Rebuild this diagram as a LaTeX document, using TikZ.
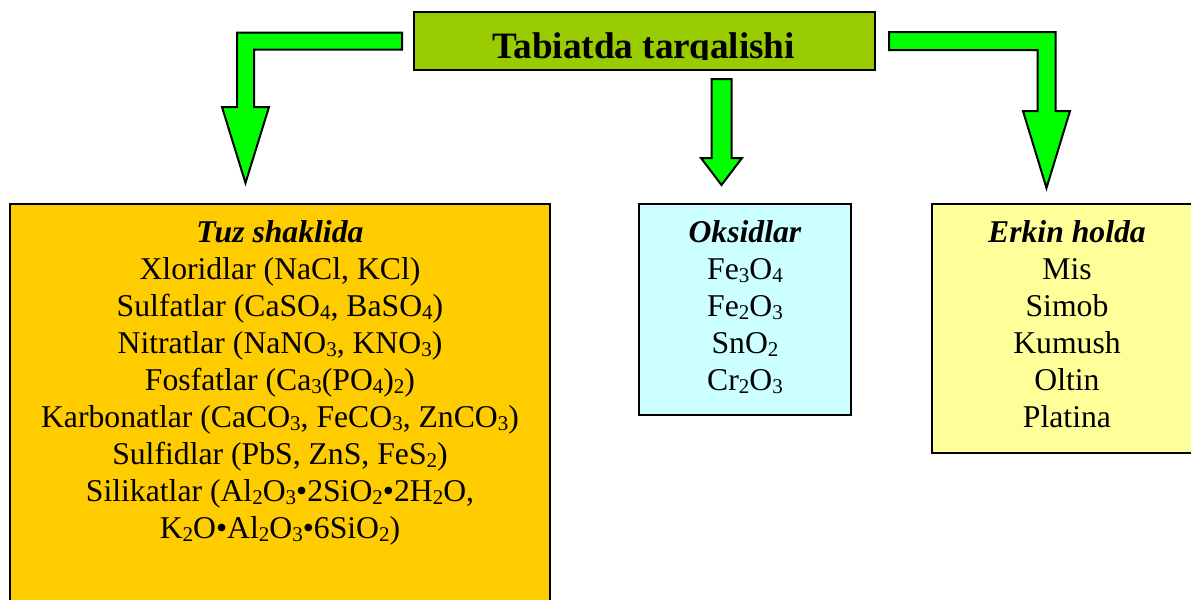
\documentclass[tikz,border=0pt]{standalone}
\usepackage{fontspec}
\setmainfont{Liberation Serif}
\usetikzlibrary{calc}
\definecolor{titlegreen}{HTML}{99CC00}
\definecolor{arrowgreen}{HTML}{00FF00}
\definecolor{saltorange}{HTML}{FFCC00}
\definecolor{oxidecyan}{HTML}{CCFFFF}
\definecolor{freeyellow}{HTML}{FFFF99}
\newcommand\subn[1]{\raisebox{-0.1em}{\fontsize{10.5pt}{10.5pt}\selectfont #1}}
\begin{document}
\begin{tikzpicture}[x=0.5pt,y=-0.5pt,
	box/.style={draw=black, line width=1pt, anchor=north west, inner sep=0pt},
	list/.style={align=center, anchor=base, inner sep=0pt, font=\fontsize{15.85pt}{18.5pt}\selectfont},
	bigarrow/.style={draw=black, fill=arrowgreen, line width=1pt, line join=miter}]
		\useasboundingbox (0,0) rectangle (1191,600);
		\clip (0,0) rectangle (1191,600);
		% title
		\node[box, fill=titlegreen, minimum width=230.5pt, minimum height=29pt] (title) at (413,11) {};
		\begin{scope}
			\clip (413,11) rectangle (874,59);
			\node[anchor=base, inner sep=0pt, font=\fontsize{18.6pt}{22pt}\selectfont\bfseries] (titletext) at (643.5,58) {Tabiatda tarqalishi};
		\end{scope}
		% boxes, lists sit on the baseline of their last line
		\node[box, fill=saltorange, minimum width=270pt, minimum height=220pt] (salt) at (9,203) {};
		\node[box, fill=oxidecyan, minimum width=106pt, minimum height=105.5pt] (oxide) at (638,203) {};
		\node[box, fill=freeyellow, minimum width=135pt, minimum height=124.5pt] (free) at (931,203) {};
		\node[list] (saltlist) at ($(salt.north)+(0,335)$) {\textbf{\textit{Tuz shaklida}}\\
			Xloridlar (NaCl, KCl)\\
			Sulfatlar (CaSO\subn{4}, BaSO\subn{4})\\
			Nitratlar (NaNO\subn{3}, KNO\subn{3})\\
			Fosfatlar (Ca\subn{3}(PO\subn{4})\subn{2})\\
			Karbonatlar (CaCO\subn{3}, FeCO\subn{3}, ZnCO\subn{3})\\
			Sulfidlar (PbS, ZnS, FeS\subn{2})\\
			Silikatlar (Al\subn{2}O\subn{3}•2SiO\subn{2}•2H\subn{2}O,\\
			K\subn{2}O•Al\subn{2}O\subn{3}•6SiO\subn{2})};
		\node[list] (oxidelist) at ($(oxide.north)+(0,187)$) {\textbf{\textit{Oksidlar}}\\
			Fe\subn{3}O\subn{4}\\ Fe\subn{2}O\subn{3}\\ SnO\subn{2}\\ Cr\subn{2}O\subn{3}};
		\node[list] (freelist) at ($(free.north)+(0,224)$) {\textbf{\textit{Erkin holda}}\\
			Mis\\ Simob\\ Kumush\\ Oltin\\ Platina};
		% arrows
		\coordinate (ltail) at ($(title.west)+(-11,0)$);
		\coordinate (ltip) at ($(salt.north)+(-34.5,-20)$);
		\coordinate (rtail) at ($(title.east)+(13,0)$);
		\coordinate (rtip) at ($(free.north)+(-20.5,-15)$);
		\coordinate (mtip) at ($(oxide.north)+(-23.5,-18)$);
		\coordinate (mtail) at ($(mtip |- title.south)+(0,8)$);
		\draw[bigarrow] let \p1=(ltail), \p2=(ltip) in (\x1,\y1+4.25pt) -- (\x2-4.25pt,\y1+4.25pt) -- (\x2-4.25pt,\y2+38pt) -- (\x2-11.75pt,\y2+38pt) -- (\p2) -- (\x2+11.75pt,\y2+38pt) -- (\x2+4.25pt,\y2+38pt) -- (\x2+4.25pt,\y1-4.25pt) -- (\x1,\y1-4.25pt) -- cycle;
		\draw[bigarrow] let \p1=(mtail), \p2=(mtip) in (\x1-5pt,\y1) -- (\x1-5pt,\y2+13.5pt) -- (\x2-10.25pt,\y2+13.5pt) -- (\p2) -- (\x2+10.25pt,\y2+13.5pt) -- (\x1+5pt,\y2+13.5pt) -- (\x1+5pt,\y1) -- cycle;
		\draw[bigarrow] let \p1=(rtail), \p2=(rtip) in (\x1,\y1+4.5pt) -- (\x2+4.5pt,\y1+4.5pt) -- (\x2+4.5pt,\y2+38.5pt) -- (\x2+11.75pt,\y2+38.5pt) -- (\p2) -- (\x2-11.75pt,\y2+38.5pt) -- (\x2-4.5pt,\y2+38.5pt) -- (\x2-4.5pt,\y1-4.5pt) -- (\x1,\y1-4.5pt) -- cycle;
\end{tikzpicture}
\end{document}
